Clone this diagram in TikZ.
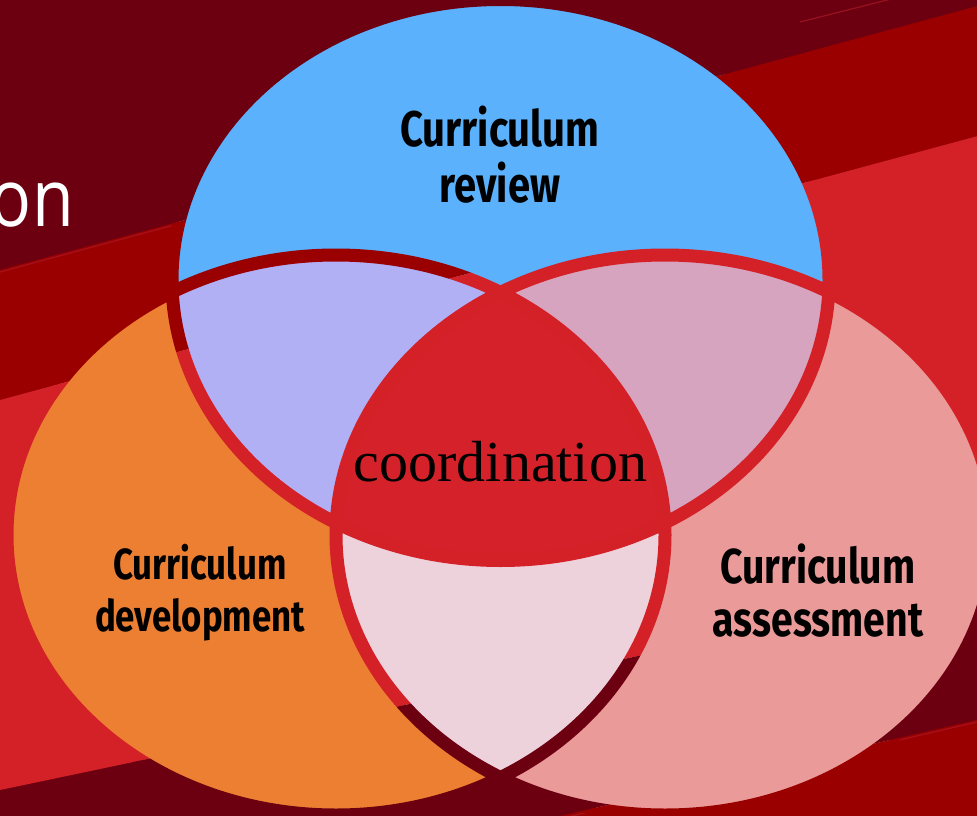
\documentclass[tikz,border=0pt]{standalone}
\usepackage{fontspec}
\newfontfamily\labfont[FakeStretch=0.8]{Fira Sans}
\newfontfamily\coordfont{Liberation Serif}
\newfontfamily\onfont[FakeStretch=0.85]{Open Sans}
\definecolor{bgdark}{HTML}{6D0010}
\definecolor{bgmid}{HTML}{9B0000}
\definecolor{bgbright}{HTML}{D42027}
\definecolor{cblue}{HTML}{5BB1FB}
\definecolor{corange}{HTML}{ED7F33}
\definecolor{cpink}{HTML}{EA9A98}
\definecolor{clav}{HTML}{B1B0F5}
\definecolor{cmauve}{HTML}{D6A4BE}
\definecolor{cpale}{HTML}{EDD2DC}
\definecolor{ccenter}{HTML}{D52129}
\definecolor{streak}{HTML}{A81A28}
\begin{document}
\begin{tikzpicture}[x=1pt,y=-1pt,
  eT/.style={x radius=328.5, y radius=280.5},
  eL/.style={x radius=329, y radius=280},
  eR/.style={x radius=329, y radius=280},
  ringline/.style={line width=13pt},
  lab/.style={font=\labfont\bfseries, align=center, inner sep=0pt, text=black},
  streakline/.style={line width=1.2pt, streak, opacity=0.7}]
\useasboundingbox (0,0) rectangle (977,816);
\coordinate (cT) at (500.5,280);
\coordinate (cL) at (336,535);
\coordinate (cR) at (665,535);
% background bands
\fill[bgdark] (0,0) rectangle (977,816);
\fill[bgmid] (0,270) -- (977,6.2) -- (977,136.2) -- (0,400) -- cycle;
\fill[bgbright] (0,400) -- (977,136.2) -- (977,584.8) -- (0,790) -- cycle;
\fill[bgmid] (0,945) -- (977,720) -- (977,1000) -- (0,1000) -- cycle;
\draw[streakline] (0,272) -- (200,218);
\draw[streakline] (800,22) -- (895,-2);
\draw[streakline] (520,828) -- (977,722);
% partial title text
\node[font=\onfont\fontsize{80}{90}\selectfont, text=white, anchor=base east, inner sep=0pt] (ttl) at (74,226) {on};
% ellipses
\fill[cblue] (cT) ellipse [eT];
\fill[corange] (cL) ellipse [eL];
\fill[cpink] (cR) ellipse [eR];
\begin{scope}
  \clip (cT) ellipse [eT];
  \fill[clav] (cL) ellipse [eL];
  \fill[cmauve] (cR) ellipse [eR];
\end{scope}
\begin{scope}
  \clip (cL) ellipse [eL];
  \fill[cpale] (cR) ellipse [eR];
\end{scope}
\begin{scope}
  \clip (cT) ellipse [eT];
  \clip (cL) ellipse [eL];
  \fill[ccenter] (cR) ellipse [eR];
\end{scope}
% gaps showing the background
\begin{scope}
  \clip (0,-10) -- (977,-10) -- (977,6.2) -- (0,270) -- cycle;
  \draw[ringline, bgdark] (cT) ellipse [eT] (cL) ellipse [eL] (cR) ellipse [eR];
\end{scope}
\begin{scope}
  \clip (0,270) -- (977,6.2) -- (977,136.2) -- (0,400) -- cycle;
  \draw[ringline, bgmid] (cT) ellipse [eT] (cL) ellipse [eL] (cR) ellipse [eR];
\end{scope}
\begin{scope}
  \clip (0,400) -- (977,136.2) -- (977,584.8) -- (0,790) -- cycle;
  \draw[ringline, bgbright] (cT) ellipse [eT] (cL) ellipse [eL] (cR) ellipse [eR];
\end{scope}
\begin{scope}
  \clip (0,790) -- (977,584.8) -- (977,720) -- (0,945) -- cycle;
  \draw[ringline, bgdark] (cT) ellipse [eT] (cL) ellipse [eL] (cR) ellipse [eR];
\end{scope}
\begin{scope}
  \clip (0,945) -- (977,720) -- (977,1000) -- (0,1000) -- cycle;
  \draw[ringline, bgmid] (cT) ellipse [eT] (cL) ellipse [eL] (cR) ellipse [eR];
\end{scope}
% labels
\node[lab, font=\labfont\bfseries\fontsize{50}{56}\selectfont] (rev) at (500,155) {Curriculum\\review};
\node[lab, font=\labfont\bfseries\fontsize{43.5}{52}\selectfont] (dev) at (200,593) {Curriculum\\development};
\node[lab, font=\labfont\bfseries\fontsize{49}{53}\selectfont] (ass) at (818,591) {Curriculum\\assessment};
\node[font=\coordfont\fontsize{58}{64}\selectfont, text=black, anchor=base, inner sep=0pt] (coord) at (500.5,481) {coordination};
\end{tikzpicture}
\end{document}
